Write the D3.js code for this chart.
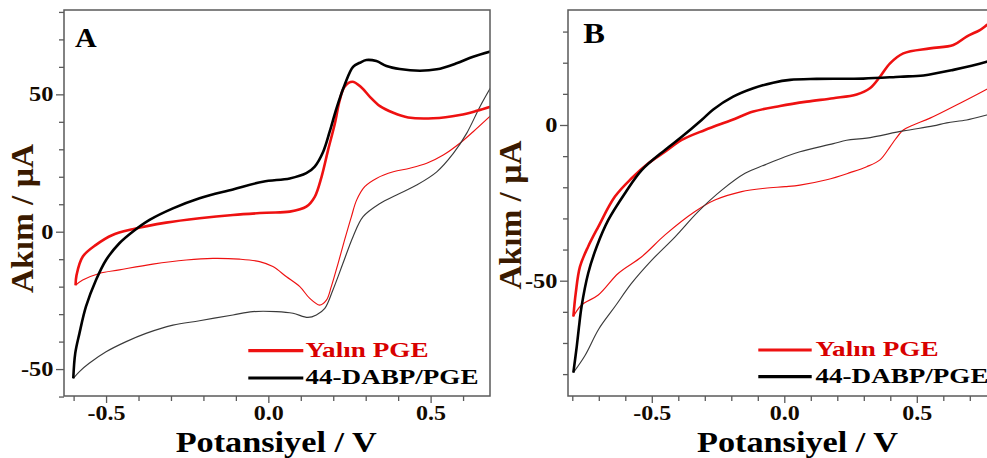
<!DOCTYPE html>
<html>
<head>
<meta charset="utf-8">
<script src="https://cdn.jsdelivr.net/npm/d3@7"></script>
<style>
  html, body { margin: 0; padding: 0; background: #fff; }
  svg { display: block; }
  text { font-family: "Liberation Serif", "Times New Roman", serif; font-weight: bold; }
</style>
</head>
<body>
<svg id="chart" width="987" height="458"></svg>
<script>
// Cyclic voltammograms: [potential (V), current (µA)] per scan branch.
// Panel A
const yalinA_anodic = [[-0.594,-19.5],[-0.591,-15.8],[-0.572,-9.1],[-0.531,-4.8],[-0.480,-1.2],[-0.418,0.9],[-0.315,3.3],[-0.212,4.9],[-0.109,6.1],[-0.006,6.9],[0.066,7.3],[0.117,9.1],[0.143,12.7],[0.164,20],[0.184,29.7],[0.205,39.4],[0.220,47.9],[0.235,52.8],[0.259,54.6],[0.287,52.5],[0.313,49.1],[0.344,45.7],[0.385,43.3],[0.431,41.6],[0.508,41.3],[0.590,42.5],[0.642,44],[0.690,45.7]];
const yalinA_cathodic = [[0.690,42.8],[0.631,36.4],[0.590,32.2],[0.539,27.9],[0.488,24.9],[0.436,23.1],[0.385,21.8],[0.333,19.4],[0.297,16.4],[0.272,11.5],[0.256,5.5],[0.235,-3],[0.215,-11.5],[0.194,-20],[0.179,-24.9],[0.158,-26.7],[0.127,-24.2],[0.097,-20],[0.056,-16.4],[0.014,-12.7],[-0.027,-10.9],[-0.089,-10],[-0.171,-9.7],[-0.253,-10.3],[-0.356,-11.8],[-0.459,-13.9],[-0.521,-15.2],[-0.572,-17.6],[-0.594,-19.5]];
const dabpA_anodic = [[-0.601,-53.4],[-0.595,-44.3],[-0.582,-37],[-0.562,-27.3],[-0.531,-17.6],[-0.5,-10.3],[-0.459,-4.2],[-0.418,0],[-0.366,4.3],[-0.294,8.5],[-0.212,12.2],[-0.109,15.4],[-0.017,18.2],[0.066,19.4],[0.117,21.3],[0.143,23.7],[0.169,29.1],[0.189,36.4],[0.210,44.9],[0.235,53.4],[0.261,60],[0.282,61.5],[0.302,62.5],[0.333,62.1],[0.364,60.3],[0.405,59.2],[0.467,58.6],[0.519,59.1],[0.580,61.3],[0.631,63.7],[0.690,65.8]];
const dabpA_cathodic = [[0.690,53.5],[0.652,45.5],[0.611,35.8],[0.570,28.5],[0.519,21.8],[0.457,17],[0.395,13.4],[0.344,10.3],[0.292,5.5],[0.261,-1.8],[0.230,-11.5],[0.199,-21.2],[0.174,-27.9],[0.148,-30.3],[0.122,-31.2],[0.076,-29.7],[0.025,-29.1],[-0.048,-29.1],[-0.109,-30.3],[-0.212,-32.4],[-0.294,-34],[-0.377,-37],[-0.438,-40],[-0.5,-43.7],[-0.552,-47.9],[-0.582,-50.9],[-0.601,-53.4]];

// Panel B
const yalinB_anodic = [[-0.796,-61.5],[-0.787,-54],[-0.771,-45.5],[-0.740,-39],[-0.702,-32.7],[-0.639,-23],[-0.576,-17.1],[-0.513,-12.3],[-0.450,-8.6],[-0.387,-4.8],[-0.299,-1.6],[-0.198,1.6],[-0.117,4.3],[-0.016,6.1],[0.085,7.5],[0.185,8.6],[0.273,9.8],[0.323,11.8],[0.361,15.5],[0.399,19.8],[0.449,23],[0.55,24.6],[0.638,25.7],[0.688,28.4],[0.738,30.5],[0.764,32.1],[0.8,34.5]];
const yalinB_cathodic = [[0.8,13.3],[0.764,11.5],[0.663,7.0],[0.55,2.2],[0.487,0],[0.449,-1.6],[0.42,-4.5],[0.399,-7],[0.361,-11.2],[0.311,-13.4],[0.248,-15.3],[0.160,-17.6],[0.059,-19.3],[0.003,-19.8],[-0.073,-20.3],[-0.161,-21.4],[-0.262,-24.1],[-0.337,-27.8],[-0.450,-35.3],[-0.538,-42.3],[-0.626,-47.6],[-0.702,-54.6],[-0.765,-57.8],[-0.796,-61.5]];
const dabpB_anodic = [[-0.796,-79.5],[-0.783,-71],[-0.775,-65],[-0.765,-58.3],[-0.740,-47.6],[-0.708,-39.1],[-0.664,-30.5],[-0.601,-21.9],[-0.538,-14.5],[-0.450,-8],[-0.387,-3.8],[-0.312,1.6],[-0.268,5.0],[-0.193,9.1],[-0.117,11.8],[-0.042,13.6],[0.022,14.5],[0.122,14.8],[0.298,14.9],[0.437,15.5],[0.525,15.9],[0.638,17.7],[0.764,20.3],[0.8,21.3]];
const dabpB_cathodic = [[0.8,4.0],[0.764,3.2],[0.688,1.6],[0.613,0.7],[0.562,-0.3],[0.449,-1.9],[0.311,-4.2],[0.235,-4.9],[0.185,-6.0],[0.059,-8.6],[0.003,-10.2],[-0.073,-12.8],[-0.148,-15.5],[-0.236,-20.9],[-0.325,-27.8],[-0.412,-35.9],[-0.500,-43.4],[-0.576,-50.8],[-0.639,-58.3],[-0.700,-65.5],[-0.752,-74.0],[-0.796,-79.5]];

// Legend entries and axis text
const seriesNames = ["Yalın PGE", "44-DABP/PGE"];
const xTitle = "Potansiyel / V";
const yTitle = "Akım / µA";
const xMajorTicks = [-0.5, 0, 0.5];
const xMinorTicksA = [-0.6, -0.4, -0.3, -0.2, -0.1, 0.1, 0.2, 0.3, 0.4, 0.6];
const xMinorTicksB = [-0.8, -0.7, -0.6, -0.4, -0.3, -0.2, -0.1, 0.1, 0.2, 0.3, 0.4, 0.6, 0.7, 0.8];
const yMajorTicksA = [-50, 0, 50];
const yMinorTicksA = [-60, -40, -30, -20, -10, 10, 20, 30, 40, 60, 70, 80];
const yMajorTicksB = [-50, 0];
const yMinorTicksB = [-80, -70, -60, -40, -30, -20, -10, 10, 20, 30];

const RED = "#ee1111";
const AXIS = "#5a5a5a";

const svg = d3.select("#chart");

const panels = [
  {
    label: "A",
    x: d3.scaleLinear().domain([-0.6296, 0.683]).range([64, 490]),
    y: d3.scaleLinear().domain([-59.8, 80.7]).range([396, 10]),
    series: [
      { anodic: yalinA_anodic, cathodic: yalinA_cathodic, color: RED, thin: RED },
      { anodic: dabpA_anodic, cathodic: dabpA_cathodic, color: "#000", thin: "#3a3a3a" }
    ],
    xMinor: xMinorTicksA, yMajor: yMajorTicksA, yMinor: yMinorTicksA,
    labelPos: [75, 46.7, 28],
    yTitlePos: [33, 218.5], xTitleX: 276.2,
    legend: { x0: 248.3, x1: 303.3, tx: 305.5, rows: [[350.7, 356.7], [378, 384]] }
  },
  {
    label: "B",
    x: d3.scaleLinear().domain([-0.8162, 0.8]).range([568, 996.3]),
    y: d3.scaleLinear().domain([-87.03, 36.93]).range([396, 10]),
    series: [
      { anodic: yalinB_anodic, cathodic: yalinB_cathodic, color: RED, thin: RED },
      { anodic: dabpB_anodic, cathodic: dabpB_cathodic, color: "#000", thin: "#3a3a3a" }
    ],
    xMinor: xMinorTicksB, yMajor: yMajorTicksB, yMinor: yMinorTicksB,
    labelPos: [583.3, 43.3, 30],
    yTitlePos: [520.7, 215], xTitleX: 797.5,
    legend: { x0: 758.3, x1: 811.7, tx: 815.5, rows: [[350, 356], [376.7, 383.3]] }
  }
];

function fit(sel, w) {
  sel.attr("textLength", w).attr("lengthAdjust", "spacingAndGlyphs");
}
function stretch(sel, k) {
  sel.each(function () {
    const w = this.getComputedTextLength();
    d3.select(this).attr("textLength", w * k).attr("lengthAdjust", "spacingAndGlyphs");
  });
}
const fmtX = d => d.toFixed(1);
const fmtY = d => String(d);

panels.forEach(p => {
  const [x0, x1] = p.x.range();
  const [yb, yt] = p.y.range();
  const g = svg.append("g");

  const clipId = "clip" + p.label;
  svg.append("clipPath").attr("id", clipId)
    .append("rect").attr("x", x0).attr("y", yt).attr("width", x1 - x0).attr("height", yb - yt);

  // scan branches: forward sweep drawn heavy, reverse sweep light
  const line = d3.line()
    .x(d => p.x(d[0]))
    .y(d => p.y(d[1]))
    .curve(d3.curveCatmullRom.alpha(0.5));
  const curves = g.append("g").attr("clip-path", `url(#${clipId})`);
  p.series.forEach(s => {
    curves.append("path").attr("d", line(s.cathodic))
      .attr("fill", "none").attr("stroke", s.thin).attr("stroke-width", 1.15)
      .attr("stroke-linejoin", "round");
  });
  p.series.forEach(s => {
    curves.append("path").attr("d", line(s.anodic))
      .attr("fill", "none").attr("stroke", s.color).attr("stroke-width", 2.6)
      .attr("stroke-linejoin", "round");
  });

  // frame
  g.append("rect").attr("x", x0).attr("y", yt).attr("width", x1 - x0).attr("height", yb - yt)
    .attr("fill", "none").attr("stroke", AXIS).attr("stroke-width", 1.5);

  // x axis
  const gxMinor = g.append("g").attr("transform", `translate(0,${yb})`)
    .call(d3.axisBottom(p.x).tickValues(p.xMinor).tickSize(5).tickFormat(""));
  const gxMajor = g.append("g").attr("transform", `translate(0,${yb})`)
    .call(d3.axisBottom(p.x).tickValues(xMajorTicks).tickSize(7).tickPadding(3).tickFormat(fmtX));
  // y axis
  const gyMinor = g.append("g").attr("transform", `translate(${x0},0)`)
    .call(d3.axisLeft(p.y).tickValues(p.yMinor).tickSize(5).tickFormat(""));
  const gyMajor = g.append("g").attr("transform", `translate(${x0},0)`)
    .call(d3.axisLeft(p.y).tickValues(p.yMajor).tickSize(8).tickPadding(2.5).tickFormat(fmtY));

  [gxMinor, gxMajor, gyMinor, gyMajor].forEach(a => {
    a.select(".domain").remove();
    a.selectAll(".tick line").attr("stroke", AXIS).attr("stroke-width", 1.3);
    a.selectAll("text").attr("font-size", 20).attr("fill", "#140a00")
      .attr("font-family", "Liberation Serif, Times New Roman, serif").attr("font-weight", "bold");
  });
  stretch(gxMajor.selectAll("text"), 1.2);
  stretch(gyMajor.selectAll("text"), 1.22);

  // panel letter
  g.append("text").attr("x", p.labelPos[0]).attr("y", p.labelPos[1])
    .attr("font-size", p.labelPos[2]).attr("fill", "#000").text(p.label)
    .call(fit, 21.7);

  // axis titles
  g.append("text").attr("x", p.xTitleX).attr("y", 451.5).attr("text-anchor", "middle")
    .attr("font-size", 30).attr("fill", "#000").text(xTitle).call(fit, 201);
  g.append("text")
    .attr("transform", `translate(${p.yTitlePos[0]},${p.yTitlePos[1]}) rotate(-90)`)
    .attr("text-anchor", "middle").attr("font-size", 31).attr("fill", "#3a1a00")
    .text(yTitle).call(fit, 149);

  // legend
  const lg = g.append("g");
  const legendColors = [RED, "#000"];
  const legendText = ["#d80000", "#000"];
  const legendWidths = [123, 173];
  seriesNames.forEach((name, k) => {
    const [ly, ty] = p.legend.rows[k];
    lg.append("line").attr("x1", p.legend.x0).attr("x2", p.legend.x1)
      .attr("y1", ly).attr("y2", ly)
      .attr("stroke", legendColors[k]).attr("stroke-width", 3.2);
    lg.append("text").attr("x", p.legend.tx).attr("y", ty)
      .attr("font-size", 21).attr("fill", legendText[k]).text(name)
      .call(fit, legendWidths[k]);
  });
});
</script>
</body>
</html>
